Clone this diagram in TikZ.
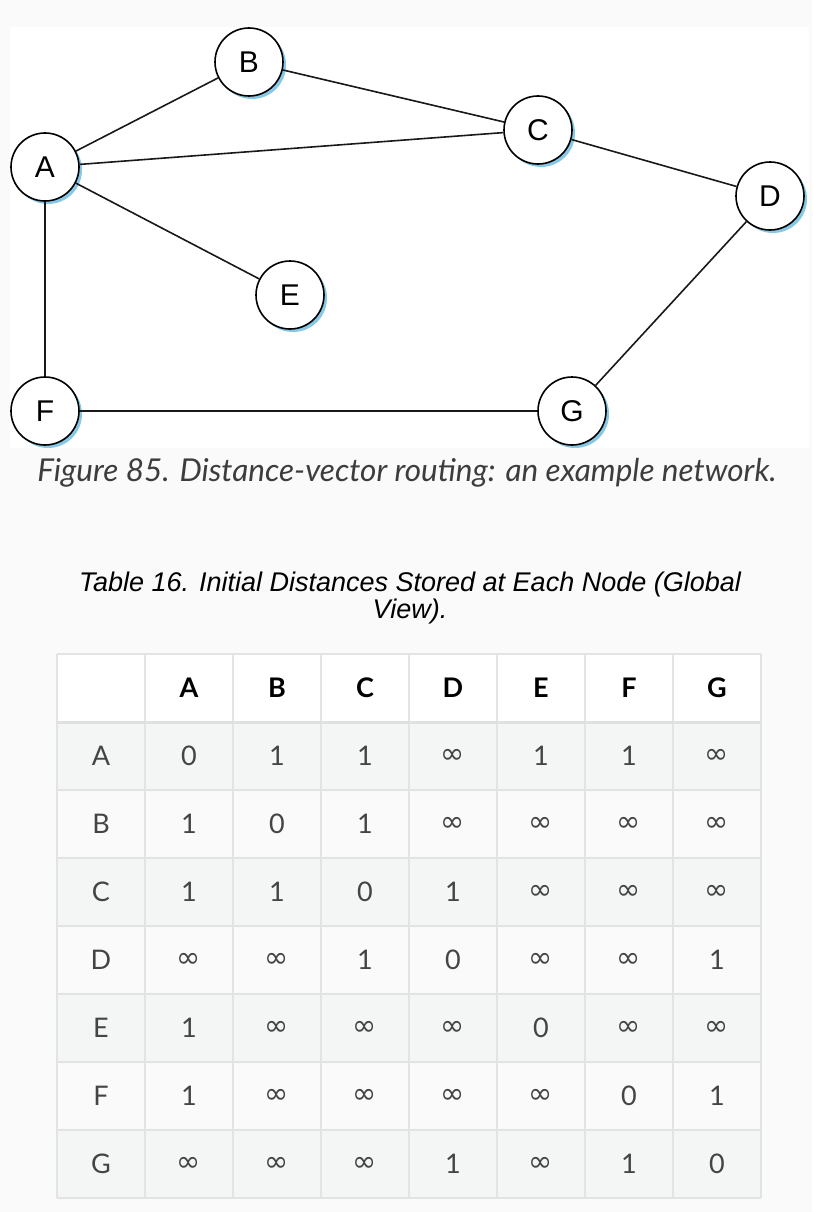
\documentclass[tikz,border=0pt]{standalone}
\usepackage{fontspec}
\usepackage{tikz}
\usetikzlibrary{shadows}
\setmainfont{Liberation Sans}
\newfontfamily\latofont{Lato}
\newfontfamily\symfont{DejaVu Sans}
\definecolor{pagebg}{HTML}{FAFAFA}
\definecolor{shadowblue}{HTML}{86C8E6}
\definecolor{rowgray}{HTML}{F4F5F5}
\definecolor{gridgray}{HTML}{E2E3E3}
\definecolor{textgray}{HTML}{444444}
\newcommand{\dvinf}{{\symfont\fontsize{29}{29}\selectfont ∞}}

\tikzset{
  router/.style={circle, draw=black, line width=1.6pt, fill=white, minimum size=68pt,
    inner sep=0pt, font=\fontsize{30}{30}\selectfont,
    drop shadow={shadow xshift=3pt, shadow yshift=-3pt, fill=shadowblue, opacity=1}},
  link/.style={line width=1.6pt, draw=black!90},
  cell/.style={font=\latofont\fontsize{27}{27}\selectfont, text=textgray},
  headcell/.style={font=\latofont\bfseries\fontsize{27}{27}\selectfont, text=black},
  grid line/.style={draw=gridgray, line width=1.5pt},
}

\begin{document}
\begin{tikzpicture}[x=1pt, y=-1pt]
    \useasboundingbox (0,0) rectangle (812,1212);
    \fill[pagebg] (0,0) rectangle (812,1212);
    \fill[white] (10,27) rectangle (809,448);

    % the network
    \node[router] (A) at (45,167) {A};
    \node[router] (B) at (249,62) {B};
    \node[router] (C) at (538,130) {C};
    \node[router] (D) at (770,196) {D};
    \node[router] (E) at (290,295) {E};
    \node[router] (F) at (45,411) {F};
    \node[router] (G) at (572,411) {G};

    \draw[link] (A) -- (B);
    \draw[link] (B) -- (C);
    \draw[link] (A) -- (C);
    \draw[link] (C) -- (D);
    \draw[link] (A) -- (E);
    \draw[link] (A) -- (F);
    \draw[link] (F) -- (G);
    \draw[link] (G) -- (D);

    \node[font=\latofont\itshape\fontsize{31.5}{31.5}\selectfont, text=textgray!90!black] (figcap) at (407,473)
      {Figure 85. Distance-vector routing: an example network.};

    % the table
    \node[align=center, font=\itshape\fontsize{27}{27}\selectfont] (tabcap) at (410,598)
      {Table 16. Initial Distances Stored at Each Node (Global\\View).};

    \fill[white] (57,654) rectangle (761,722);
    \foreach \h [count=\j] in {A,...,G}
      \node[headcell] (h\h) at (57+88*\j+44,688) {\h};

    \foreach \lab/\vals [count=\i] in {
        A/{0,1,1,\dvinf,1,1,\dvinf},
        B/{1,0,1,\dvinf,\dvinf,\dvinf,\dvinf},
        C/{1,1,0,1,\dvinf,\dvinf,\dvinf},
        D/{\dvinf,\dvinf,1,0,\dvinf,\dvinf,1},
        E/{1,\dvinf,\dvinf,\dvinf,0,\dvinf,\dvinf},
        F/{1,\dvinf,\dvinf,\dvinf,\dvinf,0,1},
        G/{\dvinf,\dvinf,\dvinf,1,\dvinf,1,0}} {
      \ifodd\i \fill[rowgray] (57,654+68*\i) rectangle (761,722+68*\i); \fi
      \node[cell] (r\lab) at (101,688+68*\i) {\lab};
      \foreach \v [count=\j] in \vals
        \node[cell] (c\lab\j) at (57+88*\j+44,688+68*\i) {\v};
    }

    \foreach \k in {0,...,8}
      \draw[grid line] (57+88*\k,654) -- (57+88*\k,1198);
    \foreach \k in {0,...,8}
      \draw[grid line] (57,654+68*\k) -- (761,654+68*\k);
    \draw[grid line, line width=3pt, draw=gridgray!110] (57,722) -- (761,722);
  \end{tikzpicture}
\end{document}
